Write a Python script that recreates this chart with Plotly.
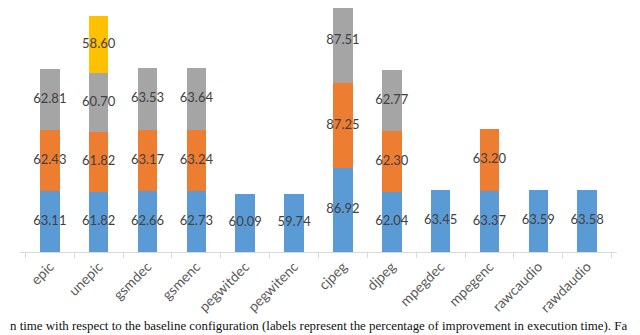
import plotly.graph_objects as go

benchmarks = ["epic", "unepic", "gsmdec", "gsmenc", "pegwitdec", "pegwitenc",
              "cjpeg", "djpeg", "mpegdec", "mpegenc", "rawcaudio", "rawdaudio"]

series_1 = [63.11, 61.82, 62.66, 62.73, 60.09, 59.74, 86.92, 62.04, 63.45, 63.37, 63.59, 63.58]
series_2 = [62.43, 61.82, 63.17, 63.24, None, None, 87.25, 62.30, None, 63.20, None, None]
series_3 = [62.81, 60.70, 63.53, 63.64, None, None, 87.51, 62.77, None, None, None, None]
series_4 = [None, 58.60, None, None, None, None, None, None, None, None, None, None]

colors = ["#5B9BD5", "#ED7D31", "#A5A5A5", "#FFC000"]

caption = ("n time with respect to the baseline configuration (labels represent "
           "the percentage of improvement in execution time). Fa")

fig = go.Figure()
base = [0.0] * len(benchmarks)
for vals, col in zip([series_1, series_2, series_3, series_4], colors):
    fig.add_trace(go.Bar(
        x=benchmarks,
        y=vals,
        marker=dict(color=col, line_width=0),
        hoverinfo="skip",
    ))
    # labels sit in the middle of each stacked segment (a scatter, so the
    # clipped cjpeg segment still gets its label)
    lx, ly, lt = [], [], []
    for i, v in enumerate(vals):
        if v is None:
            continue
        lx.append(benchmarks[i])
        ly.append(base[i] + v / 2)
        lt.append(f"{v:.2f}")
        base[i] += v
    fig.add_trace(go.Scatter(
        x=lx, y=ly, text=lt, mode="text",
        textposition="middle center",
        textfont=dict(family="Lato", size=13, color="#404040"),
        hoverinfo="skip",
        cliponaxis=False,
    ))

# the page body keeps an 8px margin, so the figure is 8px smaller than the window
fig.update_layout(
    barmode="stack",
    bargap=0.6,
    showlegend=False,
    width=632,
    height=327,
    margin=dict(l=12, r=23, t=0, b=83),
    plot_bgcolor="white",
    paper_bgcolor="white",
    font=dict(family="Lato", color="#595959"),
)
fig.update_xaxes(
    automargin=False,
    showline=True,
    linecolor="#D9D9D9",
    linewidth=1,
    ticks="outside",
    tickson="boundaries",
    ticklen=5,
    tickcolor="#D9D9D9",
    tickangle=-45,
    tickfont=dict(family="Lato", size=14, color="#595959"),
    showgrid=False,
)
fig.update_yaxes(range=[0, 251.5], visible=False, showgrid=False, automargin=False)

fig.add_annotation(
    text=caption,
    xref="paper", yref="paper",
    x=0, y=0,
    xshift=-12, yshift=-83,
    xanchor="left", yanchor="bottom",
    showarrow=False,
    font=dict(family="Liberation Serif", size=12.9, color="#111111"),
)

fig.write_html("out.html")
